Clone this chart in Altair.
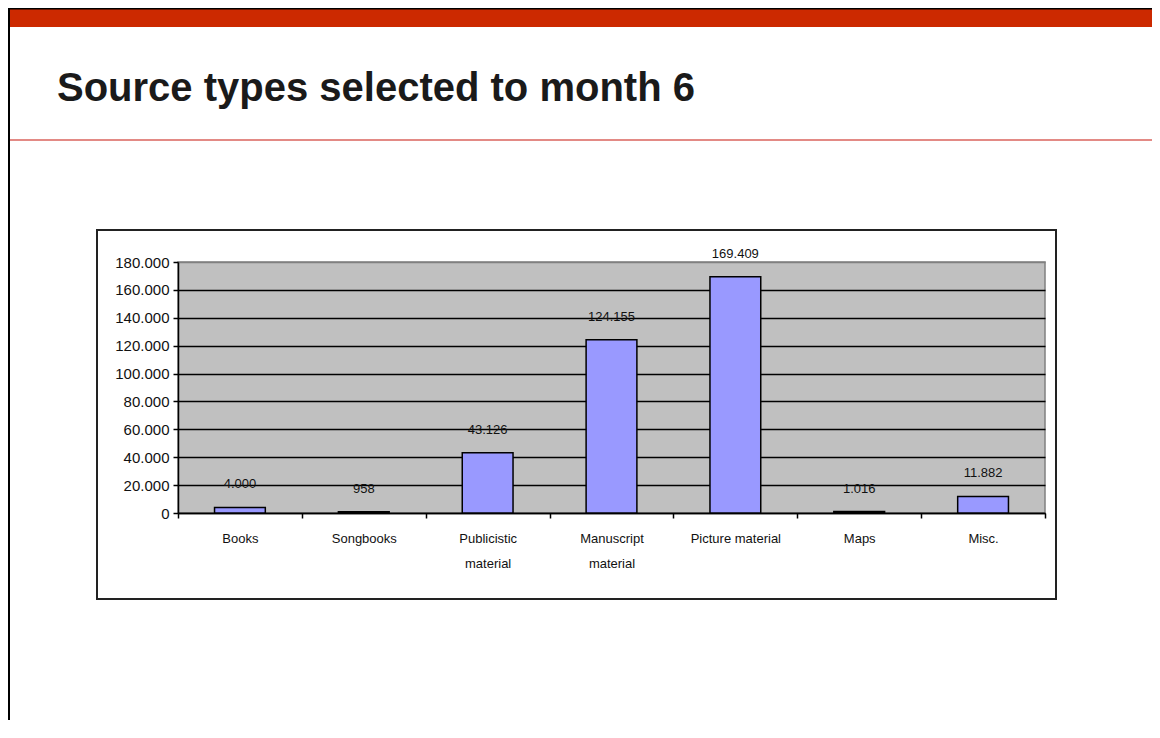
import altair as alt
import pandas as pd

# ---- data ----
categories = ["Books", "Songbooks", "Publicistic|material", "Manuscript|material",
              "Picture material", "Maps", "Misc."]
values = [4000, 958, 43126, 124155, 169409, 1016, 11882]
y_ticks = [0, 20000, 40000, 60000, 80000, 100000, 120000, 140000, 160000, 180000]
title_text = "Source types selected to month 6"

df = pd.DataFrame({"category": categories, "value": values})
df["label"] = [f"{v:,}".replace(",", ".") for v in values]
one = pd.DataFrame({"k": [0]})

# ---- layout (page pixels -> local plot coordinates) ----
W, H = 867, 251
PL, PT = 170, 254
TOTAL_W, TOTAL_H = 1144, 712

def ax(px):
    return px - 8 - PL

def ay(py):
    return py - 8 - PT

SANS = "Liberation Sans, Arial"

x_enc = alt.X(
    "category:N", sort=categories,
    scale=alt.Scale(paddingInner=0, paddingOuter=0),
    axis=alt.Axis(title=None, labelAngle=0, tickBand="extent",
                  labelExpr="split(datum.label, '|')",
                  labelFont=SANS, labelFontSize=13, labelColor="#111",
                  labelPadding=14, labelLineHeight=25, labelBaseline="top",
                  domainColor="black", domainWidth=1.5,
                  tickColor="black", tickSize=5, tickWidth=1.5, grid=False),
)
y_enc = alt.Y(
    "value:Q",
    scale=alt.Scale(domain=[0, 180000], nice=False),
    axis=alt.Axis(title=None, values=y_ticks, labelOverlap=False,
                  labelExpr="replace(format(datum.value, ','), ',', '.')",
                  labelFont=SANS, labelFontSize=15, labelColor="#111", labelPadding=4,
                  domainColor="black", domainWidth=1.5,
                  tickColor="black", tickSize=5, tickWidth=1.5,
                  grid=True,
                  gridColor={"condition": {"test": "datum.value === 180000", "value": "#808080"},
                             "value": "black"},
                  gridWidth=1.5),
)

base = alt.Chart(df).encode(x=x_enc, y=y_enc)

bars = base.mark_bar(
    color="#9999FF", stroke="black", strokeWidth=1.5, width=alt.RelativeBandSize(0.41)
)

texts = base.mark_text(
    baseline="middle", dy=-23, font=SANS, fontSize=13, color="#111"
).encode(text="label:N")

# ---- slide decorations ----
top_border = alt.Chart(one).mark_rule(color="black", strokeWidth=2).encode(
    x=alt.value(ax(8)), x2=alt.value(ax(1160)), y=alt.value(ay(8.5)))
left_border = alt.Chart(one).mark_rule(color="black", strokeWidth=3).encode(
    x=alt.value(ax(8.5)), y=alt.value(ay(8)), y2=alt.value(ay(730)))
red_bar = alt.Chart(one).mark_rect(color="#CC2900").encode(
    x=alt.value(ax(10)), x2=alt.value(ax(1160)), y=alt.value(ay(9)), y2=alt.value(ay(27)))
red_line = alt.Chart(one).mark_rule(color="#E38A85", strokeWidth=2).encode(
    x=alt.value(ax(10)), x2=alt.value(ax(1160)), y=alt.value(ay(140)))
title = alt.Chart(one).mark_text(
    text=title_text, align="left", baseline="alphabetic",
    font=SANS, fontSize=40, fontWeight="bold", color="#1a1a1a"
).encode(x=alt.value(ax(57)), y=alt.value(ay(101)))
box = alt.Chart(one).mark_rect(color="white", fillOpacity=0, stroke="#222", strokeWidth=2).encode(
    x=alt.value(ax(97)), x2=alt.value(ax(1056)), y=alt.value(ay(230)), y2=alt.value(ay(599)))

chart = alt.layer(
    bars, texts, box, red_bar, top_border, left_border, red_line, title
).properties(
    width=W, height=H,
    padding={"left": PL, "top": PT, "right": TOTAL_W - PL - W, "bottom": TOTAL_H - PT - H},
    autosize=alt.AutoSizeParams(type="none"),
    background="white",
).configure_view(
    fill="#C0C0C0", stroke="#808080", strokeWidth=1.5
)

chart.save("out.html", embed_options={"renderer": "svg", "actions": False})
